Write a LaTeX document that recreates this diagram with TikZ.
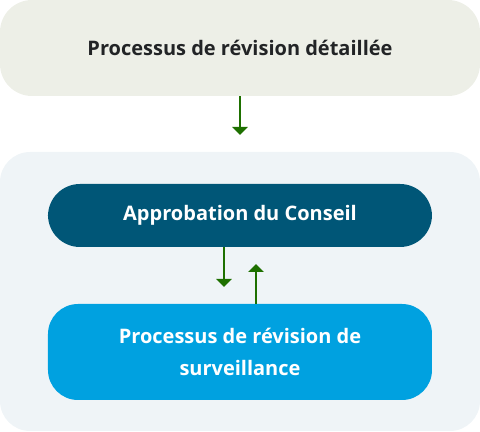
\documentclass[tikz,border=0pt]{standalone}
\usepackage{fontspec}
\setmainfont{Open Sans}
\usetikzlibrary{arrows.meta}
\definecolor{topfill}{HTML}{EDEFE7}
\definecolor{outerfill}{HTML}{EFF4F7}
\definecolor{darkblue}{HTML}{005677}
\definecolor{lightblue}{HTML}{00A1E0}
\definecolor{arrowgreen}{HTML}{1E7000}
\definecolor{textdark}{HTML}{222426}
\tikzset{
  x=0.75pt, y=-0.75pt,
  box/.style={rounded corners=24pt, minimum width=288pt, align=center, inner sep=0pt, font=\fontsize{15}{24}\selectfont\bfseries},
  flow/.style={draw=arrowgreen, line width=1.5pt, -{Triangle[width=11.5pt,length=6pt]}}
}
\begin{document}
\begin{tikzpicture}
\useasboundingbox (0,0) rectangle (480,432);
\node[box, fill=topfill, text=textdark, minimum width=360pt, minimum height=72pt] (top) at (240,48) {Processus de révision détaillée};
\node[box, fill=outerfill, minimum width=360pt, minimum height=209.25pt, rounded corners=22.5pt] (outer) at (240,291.5) {};
\node[box, fill=darkblue, text=white, minimum height=47.25pt] (appro) at (240,215.5) {Approbation du Conseil};
\node[box, fill=lightblue, text=white, minimum height=72pt, rounded corners=22.5pt] (surv) at (240,352) {Processus de révision de\\surveillance};
\coordinate (a1) at (240,135);
\draw[flow] (top.south) -- (a1);
\coordinate (a2s) at (224,247);
\coordinate (a2e) at (224,287);
\draw[flow] (a2s) -- (a2e);
\coordinate (a3s) at (256,304);
\coordinate (a3e) at (256,264);
\draw[flow] (a3s) -- (a3e);
\end{tikzpicture}
\end{document}
